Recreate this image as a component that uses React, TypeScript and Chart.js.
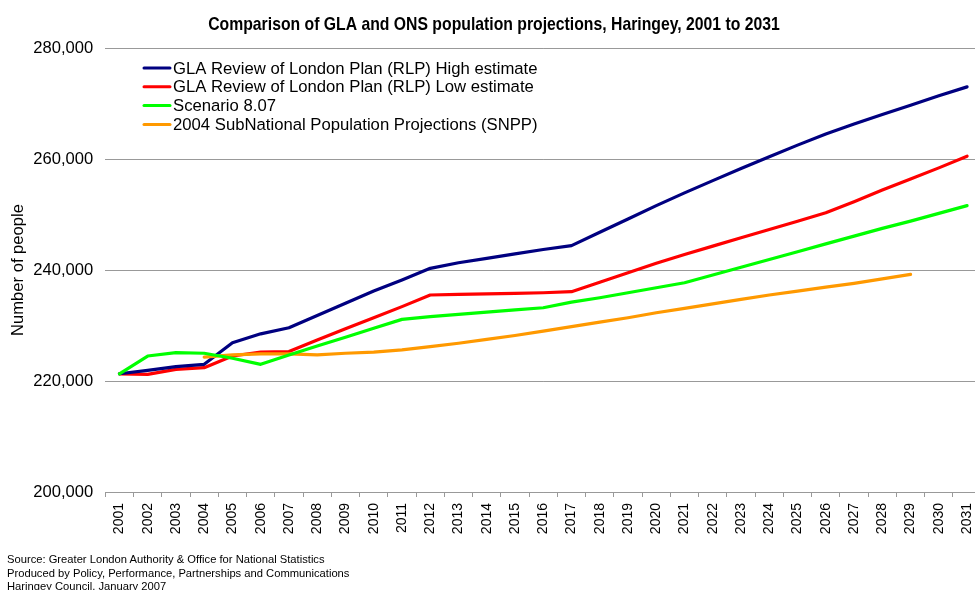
import React, { useEffect, useRef } from "react";
import { Chart, registerables } from "chart.js";

Chart.register(...registerables);

const years: string[] = [
  "2001","2002","2003","2004","2005","2006","2007","2008","2009","2010",
  "2011","2012","2013","2014","2015","2016","2017","2018","2019","2020",
  "2021","2022","2023","2024","2025","2026","2027","2028","2029","2030","2031",
];

const rlpHigh: number[] = [
  221300, 221900, 222600, 223000, 226900, 228500, 229600, 231800, 234000, 236200,
  238200, 240300, 241300, 242100, 242900, 243700, 244400, 246800, 249200, 251600,
  253900, 256100, 258300, 260400, 262500, 264500, 266300, 268000, 269700, 271400, 273000,
];

const rlpLow: number[] = [
  221300, 221200, 222100, 222400, 224500, 225200, 225300, 227400, 229400, 231400,
  233400, 235500, 235600, 235700, 235800, 235900, 236100, 237800, 239500, 241200,
  242800, 244300, 245800, 247300, 248800, 250300, 252300, 254400, 256400, 258400, 260500,
];

const scenario807: number[] = [
  221300, 224500, 225100, 225000, 224100, 223000, 224700, 226300, 227900, 229500,
  231100, 231600, 232000, 232400, 232800, 233200, 234200, 235000, 235900, 236800,
  237700, 239100, 240500, 241900, 243300, 244700, 246100, 247500, 248800, 250200, 251600,
];

const snpp2004: (number | null)[] = [
  null, null, null, 224300, 224700, 224900, 224900, 224700, 225000, 225200,
  225600, 226200, 226800, 227500, 228200, 229000, 229800, 230600, 231400, 232300,
  233100, 233900, 234700, 235500, 236200, 236900, 237600, 238400, 239200, null, null,
];

const seriesLabels: string[] = [
  "GLA Review of London Plan (RLP) High estimate",
  "GLA Review of London Plan (RLP) Low estimate",
  "Scenario 8.07",
  "2004 SubNational Population Projections (SNPP)",
];

const seriesColors: string[] = ["#000080", "#FF0000", "#00FF00", "#FF9900"];

const titleText = "Comparison of GLA and ONS population projections, Haringey, 2001 to 2031";
const yTitle = "Number of people";
const footerLines: string[] = [
  "Source: Greater London Authority & Office for National Statistics",
  "Produced by Policy, Performance, Partnerships and Communications",
  "Haringey Council, January 2007",
];

const FONT = "Arial, 'Liberation Sans', Helvetica, sans-serif";

const titlePlugin = {
  id: "condensedTitle",
  afterDraw(chart: any) {
    const ctx = chart.ctx;
    ctx.save();
    ctx.font = `bold 18.5px ${FONT}`;
    ctx.fillStyle = "#000";
    ctx.textAlign = "center";
    ctx.textBaseline = "alphabetic";
    ctx.translate(494, 30);
    ctx.scale(0.852, 1);
    ctx.fillText(titleText, 0, 0);
    ctx.restore();
  },
};

const legendPlugin = {
  id: "insideLegend",
  afterDatasetsDraw(chart: any) {
    const ctx = chart.ctx;
    ctx.save();
    ctx.font = `16.7px ${FONT}`;
    ctx.textBaseline = "middle";
    ctx.textAlign = "left";
    seriesLabels.forEach((label, i) => {
      const y = 68 + i * 18.8;
      ctx.strokeStyle = seriesColors[i];
      ctx.lineWidth = 3;
      ctx.lineCap = "round";
      ctx.beginPath();
      ctx.moveTo(144, y);
      ctx.lineTo(170, y);
      ctx.stroke();
      ctx.fillStyle = "#000";
      ctx.fillText(label, 173, y + 1);
    });
    ctx.restore();
  },
};

export default function App() {
  const ref = useRef<HTMLCanvasElement | null>(null);

  useEffect(() => {
    if (!ref.current) return;
    const data = [rlpHigh, rlpLow, scenario807, snpp2004];
    const orders = [2, 3, 0, 1];
    const chart = new Chart(ref.current, {
      type: "line",
      data: {
        labels: years,
        datasets: data.map((d, i) => ({
          label: seriesLabels[i],
          data: d,
          borderColor: seriesColors[i],
          backgroundColor: seriesColors[i],
          borderWidth: 3.2,
          pointRadius: 0,
          tension: 0,
          spanGaps: false,
          order: orders[i],
          borderCapStyle: "round",
          borderJoinStyle: "round",
        })),
      },
      options: {
        animation: false,
        responsive: true,
        maintainAspectRatio: false,
        layout: { padding: { left: 0, right: 7.4, top: 48, bottom: 48 } },
        plugins: {
          legend: { display: false },
          tooltip: { enabled: false },
          title: { display: false },
        },
        scales: {
          x: {
            type: "category",
            offset: true,
            grid: {
              display: true,
              drawOnChartArea: false,
              drawTicks: true,
              tickLength: 5,
              color: "#999",
              offset: true,
            },
            border: { display: true, color: "#999" },
            ticks: {
              autoSkip: false,
              minRotation: 90,
              maxRotation: 90,
              padding: 6,
              color: "#000",
              font: { family: FONT, size: 14 },
            },
            afterFit: (s: any) => {
              s.height = 50;
            },
          },
          y: {
            min: 200000,
            max: 280000,
            border: { display: false },
            grid: { color: "#999", drawTicks: false, lineWidth: 1 },
            ticks: {
              stepSize: 20000,
              padding: 12,
              color: "#000",
              font: { family: FONT, size: 16.6 },
              callback: (v: any) => Number(v).toLocaleString("en-GB"),
            },
            title: {
              display: true,
              text: yTitle,
              color: "#000",
              font: { family: FONT, size: 16.6 },
              padding: { top: 8, bottom: 0 },
            },
            afterFit: (s: any) => {
              s.width = 105.3;
            },
          },
        },
      },
      plugins: [legendPlugin, titlePlugin],
    });
    return () => chart.destroy();
  }, []);

  return (
    <div
      style={{
        position: "fixed",
        left: 0,
        top: 0,
        width: 975,
        height: 590,
        overflow: "hidden",
        background: "#fff",
      }}
    >
      <div style={{ position: "absolute", left: 0, top: 0, width: 990, height: 590 }}>
        <canvas ref={ref} />
      </div>
      <div
        style={{
          position: "absolute",
          left: 7,
          top: 553,
          fontFamily: FONT,
          fontSize: 11.2,
          lineHeight: "13.5px",
          color: "#000",
          whiteSpace: "nowrap",
        }}
      >
        {footerLines.map((l, i) => (
          <div key={i}>{l}</div>
        ))}
      </div>
    </div>
  );
}
